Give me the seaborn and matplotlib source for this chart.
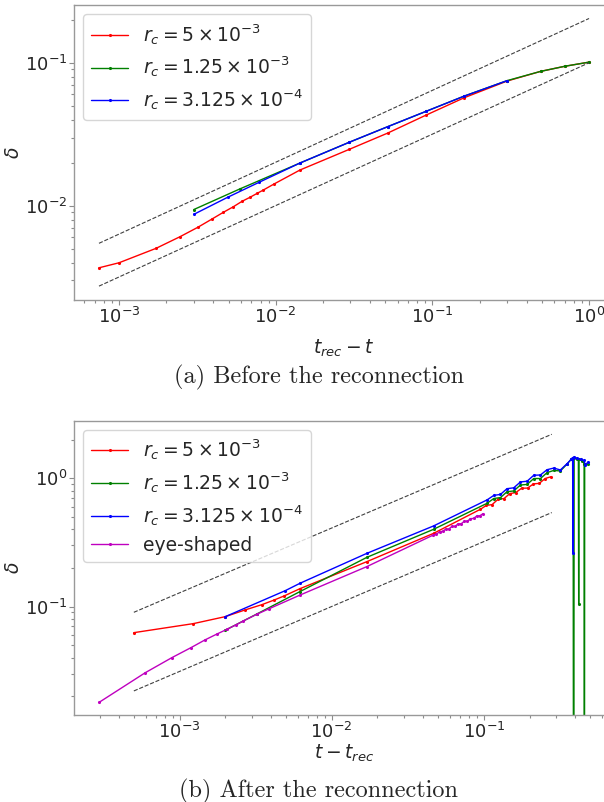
import numpy as np
import pandas as pd
import seaborn as sns
import matplotlib.pyplot as plt

# ---- (a) before the reconnection: t_rec - t vs delta ----
top_red_x = [7.45e-4, 1.0e-3, 1.72e-3, 2.45e-3, 3.18e-3, 3.92e-3, 4.63e-3, 5.37e-3, 6.10e-3,
             6.86e-3, 7.63e-3, 8.34e-3, 9.76e-3, 1.43e-2, 2.95e-2, 5.18e-2, 9.1e-2, 0.16, 0.30,
             0.49, 0.70, 1.0]
top_red_y = [0.00368, 0.00399, 0.00503, 0.00607, 0.00706, 0.00807, 0.00899, 0.00984, 0.01074,
             0.01146, 0.01222, 0.01288, 0.01419, 0.01778, 0.0248, 0.0322, 0.0430, 0.0570, 0.0745,
             0.0870, 0.0945, 0.101]
top_green_x = [3.0e-3, 5.9e-3, 1.43e-2, 2.95e-2, 5.18e-2, 9.1e-2, 0.16, 0.30, 0.49, 0.70, 1.0]
top_green_y = [0.0094, 0.0131, 0.0199, 0.0278, 0.0357, 0.0457, 0.0585, 0.0750, 0.0870, 0.0945, 0.101]
top_blue_x = [3.0e-3, 4.94e-3, 7.85e-3, 1.43e-2, 2.95e-2, 5.18e-2, 9.1e-2, 0.16, 0.30]
top_blue_y = [0.0087, 0.01146, 0.0146, 0.0199, 0.0278, 0.0357, 0.0457, 0.0585, 0.0750]
top_guide_x = [7.45e-4, 1.0]
top_guide_hi = [0.00546, 0.204]
top_guide_lo = [0.00274, 0.100]

# ---- (b) after the reconnection: t - t_rec vs delta ----
bot_red_x = [5e-4, 1.23e-3, 2.0e-3, 2.7e-3, 3.48e-3, 4.19e-3, 4.87e-3, 6.2e-3, 1.706e-2, 4.68e-2,
             0.0951, 0.104, 0.1135, 0.124, 0.136, 0.1486, 0.1622, 0.1774, 0.194, 0.2123, 0.2317,
             0.2535, 0.2773]
bot_red_y = [0.0626, 0.0736, 0.0835, 0.0942, 0.1035, 0.1125, 0.121, 0.138, 0.224, 0.372,
             0.573, 0.614, 0.623, 0.685, 0.695, 0.760, 0.772, 0.836, 0.838, 0.903, 0.912,
             0.995, 1.028]
bot_green_x = [2.0e-3, 3.22e-3, 6.2e-3, 1.706e-2, 4.68e-2, 0.1052, 0.1164, 0.1288, 0.1422, 0.1574,
               0.1742, 0.1928, 0.2133, 0.2360, 0.2606, 0.2884, 0.3192, 0.3532, 0.375, 0.387,
               0.390, 0.393, 0.410, 0.419, 0.421, 0.423, 0.445, 0.457, 0.459, 0.461, 0.485]
bot_green_y = [0.0655, 0.0875, 0.131, 0.242, 0.400, 0.638, 0.695, 0.707, 0.785, 0.796,
               0.885, 0.895, 0.995, 0.995, 1.105, 1.15, 1.14, 1.29, 1.40, 1.45,
               1e-4, 1.45, 1.42, 1.40, 0.104, 1.40, 1.37, 1.30, 1e-4, 1.28, 1.28]
bot_blue_x = [2.0e-3, 4.95e-3, 6.2e-3, 1.706e-2, 4.68e-2, 0.1052, 0.1164, 0.1288, 0.1422, 0.1574,
              0.1742, 0.1928, 0.2133, 0.2360, 0.2606, 0.2884, 0.3192, 0.3532, 0.375, 0.384,
              0.386, 0.388, 0.394, 0.41, 0.435, 0.454, 0.466, 0.483]
bot_blue_y = [0.0835, 0.133, 0.152, 0.26, 0.425, 0.678, 0.735, 0.748, 0.829, 0.842,
              0.935, 0.948, 1.055, 1.060, 1.165, 1.20, 1.16, 1.30, 1.40, 1.45,
              0.26, 1.45, 1.46, 1.43, 1.40, 1.38, 1.27, 1.33]
bot_mag_x = [2.96e-4, 5.94e-4, 8.9e-4, 1.19e-3, 1.47e-3, 1.76e-3, 2.05e-3, 2.34e-3, 2.63e-3, 3.22e-3,
             3.85e-3, 6.2e-3, 1.706e-2, 4.66e-2, 4.88e-2, 5.12e-2, 5.36e-2, 5.62e-2, 5.89e-2,
             6.17e-2, 6.47e-2, 6.78e-2, 7.11e-2, 7.45e-2, 7.81e-2, 8.18e-2, 8.58e-2, 8.99e-2,
             9.42e-2, 9.90e-2]
bot_mag_y = [0.01795, 0.0305, 0.040, 0.0479, 0.055, 0.0611, 0.0665, 0.0719, 0.0773, 0.0871,
             0.0958, 0.123, 0.205, 0.361, 0.366, 0.383, 0.385, 0.401, 0.402,
             0.421, 0.421, 0.441, 0.442, 0.462, 0.463, 0.484, 0.486, 0.508,
             0.510, 0.530]
bot_guide_x = [5e-4, 0.28]
bot_guide_hi = [0.0902, 2.2]
bot_guide_lo = [0.022, 0.54]

labels = [r'$r_c = 5 \times 10^{-3}$', r'$r_c = 1.25 \times 10^{-3}$',
          r'$r_c = 3.125 \times 10^{-4}$', 'eye-shaped']
colors = ['r', 'g', 'b', 'm']

sns.set_style('ticks')
plt.rcParams['font.family'] = ['DejaVu Sans']
plt.rcParams['mathtext.fontset'] = 'dejavusans'

fig = plt.figure(figsize=(6.04, 8.02), dpi=100)
ax1 = fig.add_axes([0.1225, 0.6259, 0.8932, 0.3678])
ax2 = fig.add_axes([0.1225, 0.1085, 0.8932, 0.3670])

line_kw = dict(marker='.', markersize=4.5, markeredgewidth=0, lw=1.0,
               estimator=None, sort=False)
guide_kw = dict(color='0.25', linestyle='--', lw=0.8, estimator=None, sort=False)


def draw(ax, x, y, color, label):
    df = pd.DataFrame({'x': x, 'y': y})
    sns.lineplot(data=df, x='x', y='y', ax=ax, color=color, label=label,
                 markeredgecolor=color, **line_kw)


for ax in (ax1, ax2):
    ax.set_xscale('log')
    ax.set_yscale('log')

draw(ax1, top_red_x, top_red_y, colors[0], labels[0])
draw(ax1, top_green_x, top_green_y, colors[1], labels[1])
draw(ax1, top_blue_x, top_blue_y, colors[2], labels[2])
sns.lineplot(x=top_guide_x, y=top_guide_hi, ax=ax1, **guide_kw)
sns.lineplot(x=top_guide_x, y=top_guide_lo, ax=ax1, **guide_kw)

draw(ax2, bot_red_x, bot_red_y, colors[0], labels[0])
draw(ax2, bot_green_x, bot_green_y, colors[1], labels[1])
draw(ax2, bot_blue_x, bot_blue_y, colors[2], labels[2])
draw(ax2, bot_mag_x, bot_mag_y, colors[3], labels[3])
sns.lineplot(x=bot_guide_x, y=bot_guide_hi, ax=ax2, **guide_kw)
sns.lineplot(x=bot_guide_x, y=bot_guide_lo, ax=ax2, **guide_kw)

ax1.set_xlim(5.16e-4, 1.432)
ax1.set_ylim(0.00219, 0.2533)
ax2.set_xlim(2.02e-4, 0.713)
ax2.set_ylim(0.01429, 2.81)

ax1.set_xlabel(r'$t_{rec} - t$', fontsize=13.5, labelpad=8)
ax2.set_xlabel(r'$t - t_{rec}$', fontsize=13.5, labelpad=1)

for ax in (ax1, ax2):
    ax.set_ylabel(r'$\delta$', fontsize=13.5)
    ax.yaxis.set_label_coords(-0.094, 0.5)
    ax.tick_params(which='both', labelsize=13, color='0.55', width=0.8, pad=1.2)
    ax.tick_params(which='major', length=3.5)
    ax.tick_params(which='minor', length=2)
    for s in ax.spines.values():
        s.set_color('0.6')
        s.set_linewidth(1.0)
    ax.legend(loc='upper left', fontsize=13.5, handlelength=2.0, labelspacing=0.42)

fig.text(0.528, 0.530, '(a) Before the reconnection', family='cmr10', fontsize=17.5,
         ha='center', va='center')
fig.text(0.528, 0.0137, '(b) After the reconnection', family='cmr10', fontsize=17.5,
         ha='center', va='center')

fig.savefig('out.png', dpi=100)
